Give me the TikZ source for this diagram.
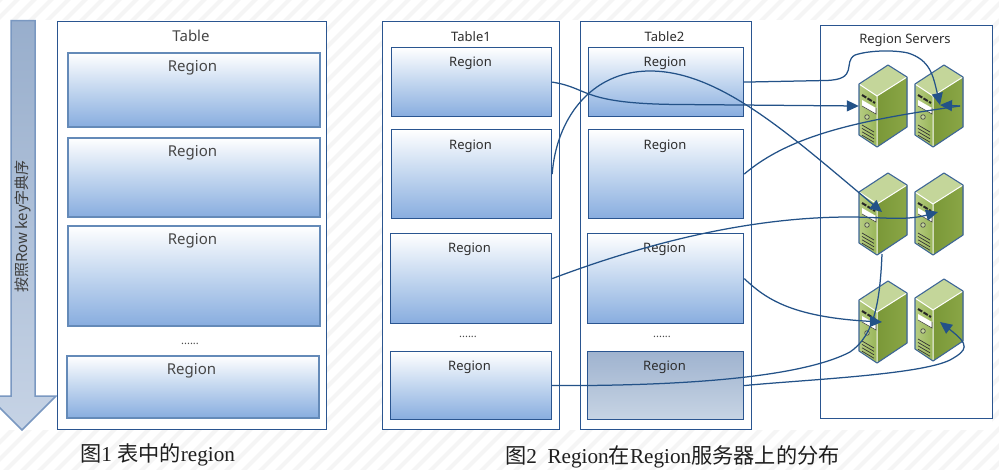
\documentclass[tikz,border=0pt]{standalone}
\usepackage{fontspec}
\setmainfont{Liberation Serif}
\setsansfont{Noto Sans}
\newfontfamily\cjk{Noto Sans CJK SC}
\usetikzlibrary{arrows.meta,calc}
\definecolor{framecol}{HTML}{2A5590}
\definecolor{softframe}{HTML}{648AB8}
\definecolor{linkcol}{HTML}{235288}
\definecolor{srvline}{HTML}{3F6797}
\definecolor{srvfrontL}{HTML}{B6CC82}
\definecolor{srvfrontR}{HTML}{98B558}
\definecolor{srvsideL}{HTML}{7A9838}
\definecolor{srvsideR}{HTML}{8AA646}
\definecolor{srvtop}{HTML}{C4D69A}
\definecolor{grayT}{HTML}{9FB3CF}
\definecolor{grayB}{HTML}{C7D4E4}
\definecolor{regB}{HTML}{88ADDF}
\definecolor{regM}{HTML}{C2D6EF}
\definecolor{stripecol}{HTML}{F5F5F5}
\definecolor{arrowtop}{HTML}{98AECC}
\definecolor{arrowbot}{HTML}{C6D3E5}
\definecolor{arrowedge}{HTML}{7A98C1}
\tikzset{
  x=1pt,y=-1pt,
  tablebox/.style={draw=framecol,line width=1.2pt,fill=white,inner sep=0pt,anchor=north west},
  regionbox/.style={draw=framecol,line width=1.2pt,inner sep=0pt,anchor=north west,top color=white,bottom color=regB,middle color=regM},
  softregion/.style={regionbox,draw=softframe,line width=1.5pt},
  grayregion/.style={draw=framecol,line width=1.2pt,inner sep=0pt,anchor=north west,top color=grayT,bottom color=grayB},
  labelA/.style={font=\sffamily\fontsize{15}{16}\selectfont,text=black!72,inner sep=0pt},
  labelB/.style={font=\sffamily\fontsize{13}{15}\selectfont,text=black!82,inner sep=0pt},
  dotsl/.style={font=\sffamily\fontsize{11}{12}\selectfont,text=black!70,inner sep=0pt},
  capnote/.style={font=\fontsize{21.2}{24}\selectfont,text=black!88,inner sep=0pt,anchor=west},
  link/.style={draw=linkcol,line width=1.25pt},
  linktip/.style={link,-{Triangle[length=12pt,width=11pt]}},
  srvedge/.style={draw=srvline,line width=1.1pt,line join=round},
}
\newcommand{\serverat}[3]{%
  \begin{scope}[shift={(#2,#3)}]
    \fill[left color=srvfrontL,right color=srvfrontR] (0,19)--(18,31)--(18,82)--(0,70)--cycle;
    \fill[left color=srvsideL,right color=srvsideR] (18,31)--(48,12)--(48,62)--(18,82)--cycle;
    \fill[fill=srvtop] (0,19)--(29,0)--(48,12)--(18,31)--cycle;
    \draw[white,line width=1pt] (0,19)--(18,31)--(48,12) (18,31)--(18,82);
    \draw[srvedge] (0,19)--(29,0)--(48,12)--(48,62)--(18,82)--(0,70)--cycle;
    \draw[black!85,line width=2pt,dash pattern=on 5pt off 1.5pt] (3,30)--(16,38);
    \fill[white] (3,35)--(17,43)--(17,49)--(3,41)--cycle;
    \draw[black!70,line width=.6pt] (3,41)--(17,49)--(17,43);
    \draw[black!70,fill=srvtop,line width=.7pt] (8,52) circle (2.3);
    \foreach \k in {0,1,2,3}{\draw[black!80,line width=.7pt] (3,60+3.4*\k)--(15,67+3.4*\k);}
    \node[inner sep=0pt,minimum width=48pt,minimum height=82pt] (#1) at (24,41) {};
  \end{scope}}
\begin{document}
\begin{tikzpicture}
\useasboundingbox (0,0) rectangle (999,469);
\clip (0,0) rectangle (999,469);
\fill[white] (0,0) rectangle (999,469);
% faint page stripes
\foreach \s in {-480,-463,...,1500}{\draw[stripecol,line width=4pt] (\s,480)--(\s+490,-10);}
\fill[white] (0,20) rectangle (326,430);
\fill[white] (382,20) rectangle (992,430);
% order arrow
\path[draw=arrowedge,line width=1.5pt,top color=arrowtop,bottom color=arrowbot]
  (11,20.5)--(35,20.5)--(35,396)--(56,396)--(22,430)--(-12,396)--(11,396)--cycle;
\node[font=\cjk\fontsize{15}{16}\selectfont,text=black!76,inner sep=0pt,rotate=90] (order) at (22.5,226.5) {按照Row key字典序};
% Figure 1
\node[tablebox,minimum width=269pt,minimum height=408pt] (tbl) at (57,21) {};
\node[labelA] (tbltitle) at (191,35.5) {Table};
\node[softregion,minimum width=252pt,minimum height=74pt] (a1) at (67,52) {};
\node[softregion,minimum width=252pt,minimum height=79pt] (a2) at (67,137) {};
\node[softregion,minimum width=252pt,minimum height=100pt] (a3) at (67,225) {};
\node[softregion,minimum width=252pt,minimum height=62pt] (a4) at (66,355) {};
\node[labelA] (a1t) at (192.5,68) {Region};
\node[labelA] (a2t) at (192.5,153) {Region};
\node[labelA] (a3t) at (192.5,240.5) {Region};
\node[labelA] (a4t) at (191.5,370.5) {Region};
\node[dotsl] (adots) at (190,343.5) {......};
\node[capnote] (cap1) at (80,455) {{\cjk 图}1 {\cjk 表中的}region};
% Figure 2 tables
\node[tablebox,minimum width=177pt,minimum height=408pt] (t1) at (382,21) {};
\node[tablebox,minimum width=171pt,minimum height=408pt] (t2) at (580,21) {};
\node[tablebox,minimum width=172pt,minimum height=393pt] (rs) at (820,24.5) {};
\node[labelB] (t1t) at (471,36.5) {Table1};
\node[labelB] (t2t) at (664.5,36.5) {Table2};
\node[labelB] (rst) at (905,40.5) {Region Servers};
\node[regionbox,minimum width=160pt,minimum height=69pt] (b1) at (391,47) {};
\node[regionbox,minimum width=160pt,minimum height=89pt] (b2) at (391,129) {};
\node[regionbox,minimum width=161pt,minimum height=90pt] (b3) at (390,233) {};
\node[regionbox,minimum width=161pt,minimum height=68pt] (b4) at (390,351) {};
\node[regionbox,minimum width=155pt,minimum height=69pt] (c1) at (588,47) {};
\node[regionbox,minimum width=155pt,minimum height=89pt] (c2) at (588,129) {};
\node[regionbox,minimum width=156pt,minimum height=90pt] (c3) at (587,233) {};
\node[grayregion,minimum width=156pt,minimum height=68pt] (c4) at (587,351) {};
\node[labelB] (b1t) at (470.5,63) {Region};
\node[labelB] (b2t) at (470.5,146) {Region};
\node[labelB] (b3t) at (469.5,249.5) {Region};
\node[labelB] (b4t) at (469.5,367.5) {Region};
\node[labelB] (c1t) at (665,63) {Region};
\node[labelB] (c2t) at (665,146) {Region};
\node[labelB] (c3t) at (664.5,249.5) {Region};
\node[labelB] (c4t) at (664.5,367.5) {Region};
\node[dotsl] (bdots) at (468,337) {......};
\node[dotsl] (cdots) at (662,337) {......};
\node[capnote] (cap2) at (505,457) {{\cjk 图}2\ \ Region{\cjk 在}Region{\cjk 服务器上的分布}};
% servers
\serverat{s11}{859}{65}
\serverat{s12}{915}{65}
\serverat{s21}{859}{173}
\serverat{s22}{915}{173}
\serverat{s31}{859}{281}
\serverat{s32}{915}{279}
% connector ends inside the servers
\coordinate (e12) at (940,105);
\coordinate (e12tail) at (960,106);
\coordinate (e21) at (882,212);
\coordinate (e22) at (938,212);
\coordinate (e31) at (882,322);
\coordinate (e31b) at (882,254);
\coordinate (e32) at (940,322);
% connectors
\draw[linktip] (b1.east) .. controls (590,88) and (580,104) .. (680,104.5) -- (s11.west);
\draw[linktip] (c1.east) -- (825,80.5) .. controls (860,80) and (842,62) .. (855,55)
   .. controls (870,50) and (895,50) .. (908,53) .. controls (930,60) and (933,75) .. (e12);
\draw[linktip] (b2.east) .. controls (556,120) and (590,71) .. (650,71)
   .. controls (720,71) and (790,135) .. (e21);
\draw[link] (c2.east) .. controls (790,135) and (860,120) .. (e12tail);
\draw[linktip] (e12tail) -- (e12);
\draw[linktip] (b3.east) .. controls (660,238) and (760,217) .. (850,217)
   .. controls (880,217) and (905,221) .. (e22);
\draw[linktip] (c3.east) .. controls (765,298) and (790,317) .. (e31);
\draw[link] (b4.east) .. controls (680,386) and (800,378) .. (850,352)
   .. controls (875,335) and (880,300) .. (e31b);
\draw[linktip] (c4.east) .. controls (800,380) and (920,375) .. (950,360)
   .. controls (968,350) and (970,345) .. (e32);
\end{tikzpicture}
\end{document}
